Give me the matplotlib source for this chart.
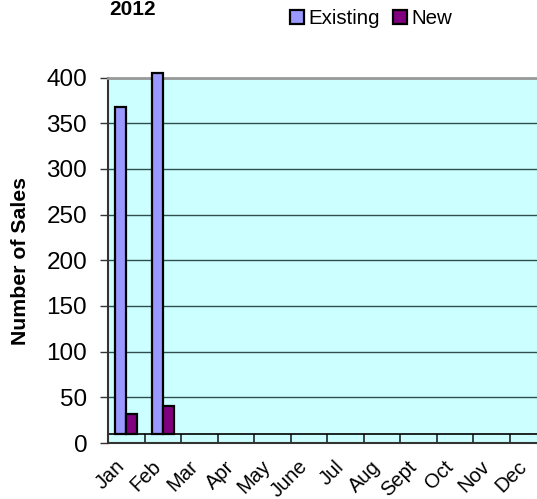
import matplotlib.pyplot as plt
import numpy as np
from matplotlib.patches import Patch
from matplotlib.transforms import ScaledTranslation

plt.rcParams['font.family'] = ['Liberation Sans', 'DejaVu Sans']

months = ['Jan', 'Feb', 'Mar', 'Apr', 'May', 'June', 'Jul', 'Aug', 'Sept', 'Oct', 'Nov', 'Dec']
existing = [368, 405]   # Feb runs off the top of the chart
new = [32, 40]
floor = 10  # 3D floor offset in the original chart
yticks = np.arange(0, 401, 50)

fig = plt.figure(figsize=(5.37, 4.99), dpi=100)
ax = fig.add_axes([108 / 537, 56 / 499, 438 / 537, 365.5 / 499])
ax.set_facecolor('#CCFFFF')

x = np.arange(len(existing))
w = 0.3
ax.bar(x - w / 2, np.array(existing) - floor, w, bottom=floor, color='#9999FF',
       edgecolor='black', linewidth=1.6, zorder=3, clip_on=False)
ax.bar(x + w / 2, np.array(new) - floor, w, bottom=floor, color='#800080',
       edgecolor='black', linewidth=1.6, zorder=3, clip_on=False)

ax.set_xlim(-0.5, len(months) - 0.5)
ax.set_ylim(0, 400)
ax.set_yticks(yticks)
ax.set_yticklabels([str(v) for v in yticks], fontsize=17.5)
ax.tick_params(axis='y', length=6, width=1, pad=9, color='#333333')
ax.grid(axis='y', color='#2f4f4f', linewidth=1, zorder=1)
ax.axhline(floor, color='black', linewidth=1.2, zorder=2)

ax.set_xticks(np.arange(len(months)))
ax.set_xticklabels(months, fontsize=14.5, rotation=45, ha='right', va='top',
                   rotation_mode='anchor')
ax.set_xticks(np.arange(len(months)) + 0.5, minor=True)
ax.tick_params(axis='x', which='major', length=0, pad=10)
ax.tick_params(axis='x', which='minor', direction='in', length=6.5, width=1.2, color='#222222')
off = ScaledTranslation(-8 / 72, 0, fig.dpi_scale_trans)
for lab in ax.get_xticklabels():
    lab.set_transform(lab.get_transform() + off)

ax.spines['right'].set_visible(False)
ax.spines['top'].set_color('#999999')
ax.spines['top'].set_linewidth(2)
ax.spines['left'].set_color('#333333')
ax.spines['left'].set_linewidth(1.5)
ax.spines['bottom'].set_color('#333333')
ax.spines['bottom'].set_linewidth(1.5)

fig.text(21 / 537, 1 - 261 / 499, 'Number of Sales', rotation=90, fontsize=15.3,
         fontweight='bold', ha='center', va='center')
fig.text(133 / 537, 1 - 15 / 499, '2012', fontsize=15, fontweight='bold',
         ha='center', va='baseline')

handles = [Patch(facecolor='#9999FF', edgecolor='black', linewidth=1.6, label='Existing'),
           Patch(facecolor='#800080', edgecolor='black', linewidth=1.6, label='New')]
fig.legend(handles=handles, loc='center', bbox_to_anchor=(371 / 537, 1 - 19 / 499),
           ncol=2, frameon=False, fontsize=14.8, handlelength=0.68, handleheight=0.68,
           handletextpad=0.25, columnspacing=0.6, borderpad=0)

fig.savefig('out.png', dpi=100)
